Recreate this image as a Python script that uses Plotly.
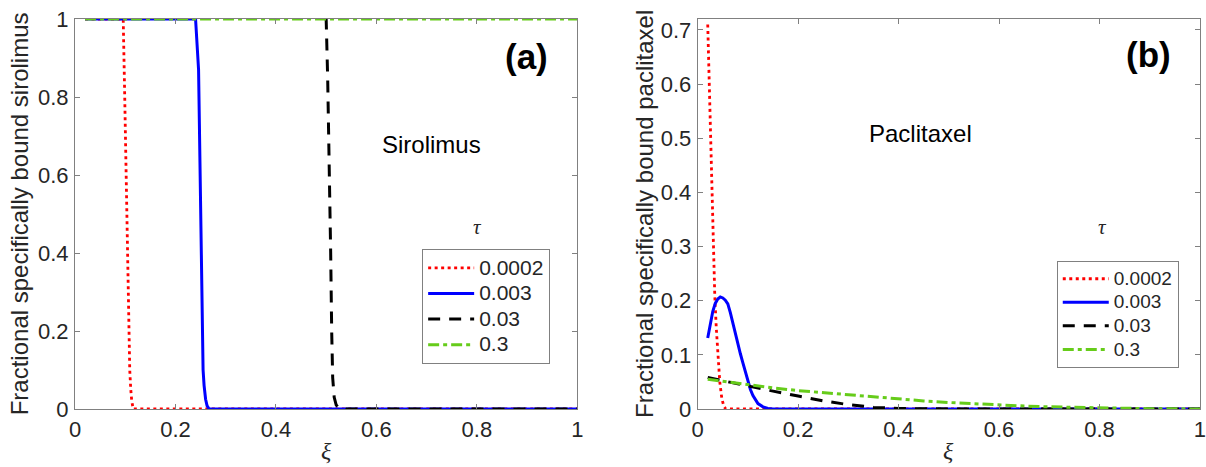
import plotly.graph_objects as go

# ---- Panel (a): sirolimus -------------------------------------------------
tau_labels = ["0.0002", "0.003", "0.03", "0.3"]

sir_x_0002 = [0.02, 0.096, 0.099, 0.102, 0.105, 0.107, 0.109, 0.111, 0.113, 0.116, 1.0]
sir_y_0002 = [1.0, 1.0, 0.8, 0.6, 0.4, 0.2, 0.1, 0.05, 0.02, 0.0, 0.0]

sir_x_003 = [0.02, 0.240, 0.246, 0.248, 0.250, 0.2527, 0.255, 0.257, 0.260, 0.263, 0.267, 1.0]
sir_y_003 = [1.0, 1.0, 0.87, 0.7, 0.45, 0.2, 0.1, 0.06, 0.025, 0.008, 0.0, 0.0]

sir_x_03 = [0.497, 0.500, 0.503, 0.506, 0.509, 0.511, 0.513, 0.516, 0.520, 0.527, 1.0]
sir_y_03 = [1.0, 1.0, 0.85, 0.65, 0.4, 0.2, 0.08, 0.03, 0.01, 0.0, 0.0]

sir_x_3 = [0.02, 0.25, 0.5, 0.75, 1.0]
sir_y_3 = [1.0, 1.0, 1.0, 1.0, 1.0]

# ---- Panel (b): paclitaxel ------------------------------------------------
pac_x_0002 = [0.02, 0.023, 0.026, 0.029, 0.031, 0.034, 0.037, 0.040, 0.044, 0.048, 0.052, 0.056, 1.0]
pac_y_0002 = [0.71, 0.60, 0.50, 0.40, 0.30, 0.21, 0.15, 0.10, 0.05, 0.02, 0.005, 0.0, 0.0]

pac_x_003 = [0.02, 0.025, 0.03, 0.035, 0.04, 0.045, 0.05, 0.055, 0.06, 0.065, 0.07, 0.075,
             0.08, 0.085, 0.09, 0.095, 0.1, 0.105, 0.11, 0.115, 0.12, 0.13, 0.14, 0.15,
             0.17, 0.2, 1.0]
pac_y_003 = [0.131, 0.158, 0.180, 0.195, 0.203, 0.207, 0.205, 0.201, 0.194, 0.178, 0.158, 0.137,
             0.118, 0.102, 0.085, 0.067, 0.050, 0.036, 0.025, 0.017, 0.010, 0.004, 0.001, 0.0,
             0.0, 0.0, 0.0]

pac_x_03 = [0.02, 0.05, 0.1, 0.15, 0.2, 0.25, 0.3, 0.35, 0.4, 0.5, 1.0]
pac_y_03 = [0.058, 0.052, 0.042, 0.033, 0.024, 0.015, 0.008, 0.003, 0.001, 0.0, 0.0]

pac_x_3 = [0.02, 0.05, 0.1, 0.15, 0.2, 0.25, 0.3, 0.35, 0.4, 0.45, 0.5, 0.55, 0.6,
           0.65, 0.7, 0.75, 0.8, 0.85, 0.9, 0.95, 1.0]
pac_y_3 = [0.055, 0.051, 0.045, 0.039, 0.034, 0.030, 0.026, 0.022, 0.019, 0.015, 0.012,
           0.0095, 0.0073, 0.0055, 0.004, 0.0028, 0.0018, 0.0011, 0.0006, 0.0003, 0.0001]

# ---- Axis ticks -----------------------------------------------------------
x_ticks = [0, 0.2, 0.4, 0.6, 0.8, 1]
x_ticktext = ["0", "0.2", "0.4", "0.6", "0.8", "1"]
ya_ticks = [0, 0.2, 0.4, 0.6, 0.8, 1]
ya_ticktext = ["0", "0.2", "0.4", "0.6", "0.8", "1"]
yb_ticks = [0, 0.1, 0.2, 0.3, 0.4, 0.5, 0.6, 0.7]
yb_ticktext = ["0", "0.1", "0.2", "0.3", "0.4", "0.5", "0.6", "0.7"]

# ---- Styles ---------------------------------------------------------------
styles = [
    dict(color="#ff0000", width=2.8, dash="3px,3.5px"),
    dict(color="#0000ff", width=3, dash="solid"),
    dict(color="#000000", width=3, dash="12px,9px"),
    dict(color="#66cc1a", width=3, dash="11px,4px,4px,4px"),
]

TEXT = "#262626"
AXIS = "#808080"
SANS = "Liberation Sans, Arial, sans-serif"
SERIF = "Liberation Serif, Times New Roman, serif"

W, H = 1206, 467
ML, MR, MT, MB = 75, 0, 19, 58
PW = W - ML - MR
PH = H - MT - MB


def px(xp):
    return (xp - ML) / PW


def py(yp):
    return (H - MB - yp) / PH


def legend_name(label, size):
    return f"<span style='font-size:{size}px'>{label}</span>"


fig = go.Figure()

sir_series = [(sir_x_0002, sir_y_0002), (sir_x_003, sir_y_003),
              (sir_x_03, sir_y_03), (sir_x_3, sir_y_3)]
pac_series = [(pac_x_0002, pac_y_0002), (pac_x_003, pac_y_003),
              (pac_x_03, pac_y_03), (pac_x_3, pac_y_3)]

for (xs, ys), name, st in zip(sir_series, tau_labels, styles):
    fig.add_trace(go.Scatter(x=xs, y=ys, mode="lines", name=legend_name(name, 21), line=st,
                             xaxis="x", yaxis="y", legend="legend", cliponaxis=False))

for (xs, ys), name, st in zip(pac_series, tau_labels, styles):
    fig.add_trace(go.Scatter(x=xs, y=ys, mode="lines", name=legend_name(name, 19), line=st,
                             xaxis="x2", yaxis="y2", legend="legend2", cliponaxis=False))

axis_common = dict(showline=True, linecolor=AXIS, linewidth=1, mirror="ticks",
                   ticks="inside", ticklen=5, tickcolor=AXIS, tickwidth=1,
                   showgrid=False, zeroline=False, ticklabeloverflow="allow",
                   tickfont=dict(family=SANS, size=22, color=TEXT))

xa0, xa1 = px(75), px(580)
xb0 = px(701)

fig.update_layout(
    width=W, height=H,
    margin=dict(l=ML, r=MR, t=MT, b=MB),
    paper_bgcolor="white", plot_bgcolor="white",
    xaxis=dict(domain=[xa0, xa1], range=[0, 1], tickvals=x_ticks, ticktext=x_ticktext,
               anchor="y", ticklabelstandoff=1, **axis_common),
    yaxis=dict(domain=[0, 1], range=[0, 1], tickvals=ya_ticks, ticktext=ya_ticktext,
               anchor="x", ticklabelstandoff=1, **axis_common),
    xaxis2=dict(domain=[xb0, 1], range=[0, 1], tickvals=x_ticks, ticktext=x_ticktext,
                anchor="y2", ticklabelstandoff=1, **axis_common),
    yaxis2=dict(domain=[0, 1], range=[0, 0.72], tickvals=yb_ticks, ticktext=yb_ticktext,
                anchor="x2", ticklabelstandoff=1, **axis_common),
    legend=dict(x=px(424), y=py(249), xanchor="left", yanchor="top",
                bgcolor="white", bordercolor=AXIS, borderwidth=1,
                font=dict(family=SANS, size=17.4, color=TEXT),
                itemwidth=46, tracegroupgap=0),
    legend2=dict(x=px(1062), y=py(261), xanchor="left", yanchor="top",
                 bgcolor="white", bordercolor=AXIS, borderwidth=1,
                 font=dict(family=SANS, size=15.8, color=TEXT),
                 itemwidth=46, tracegroupgap=0),
    showlegend=True,
)

annotations = [
    # axis titles
    dict(text="Fractional specifically bound sirolimus", x=px(19), y=py(214),
         textangle=-90, font=dict(family=SANS, size=24, color=TEXT)),
    dict(text="Fractional specifically bound paclitaxel", x=px(647), y=py(214),
         textangle=-90, font=dict(family=SANS, size=24, color=TEXT)),
    dict(text="<i>ξ</i>", x=px(327.5), y=py(451),
         font=dict(family=SERIF, size=24, color=TEXT)),
    dict(text="<i>ξ</i>", x=px(953.5), y=py(451),
         font=dict(family=SERIF, size=24, color=TEXT)),
    # legend headings
    dict(text="<i>τ</i>", x=px(480), y=py(227),
         font=dict(family=SERIF, size=21, color=TEXT)),
    dict(text="<i>τ</i>", x=px(1108), y=py(227),
         font=dict(family=SERIF, size=21, color=TEXT)),
    # panel notes
    dict(text="Sirolimus", x=px(382), y=py(144), xanchor="left",
         font=dict(family=SANS, size=24, color="#000000")),
    dict(text="Paclitaxel", x=px(871), y=py(133), xanchor="left",
         font=dict(family=SANS, size=24, color="#000000")),
    dict(text="<b>(a)</b>", x=px(529), y=py(56),
         font=dict(family=SANS, size=35, color="#000000")),
    dict(text="<b>(b)</b>", x=px(1154.5), y=py(54),
         font=dict(family=SANS, size=35, color="#000000")),
]
for a in annotations:
    a.update(xref="paper", yref="paper", showarrow=False)
    a.setdefault("xanchor", "center")
    a.setdefault("yanchor", "middle")
fig.update_layout(annotations=annotations)

fig.write_html("out.html")
